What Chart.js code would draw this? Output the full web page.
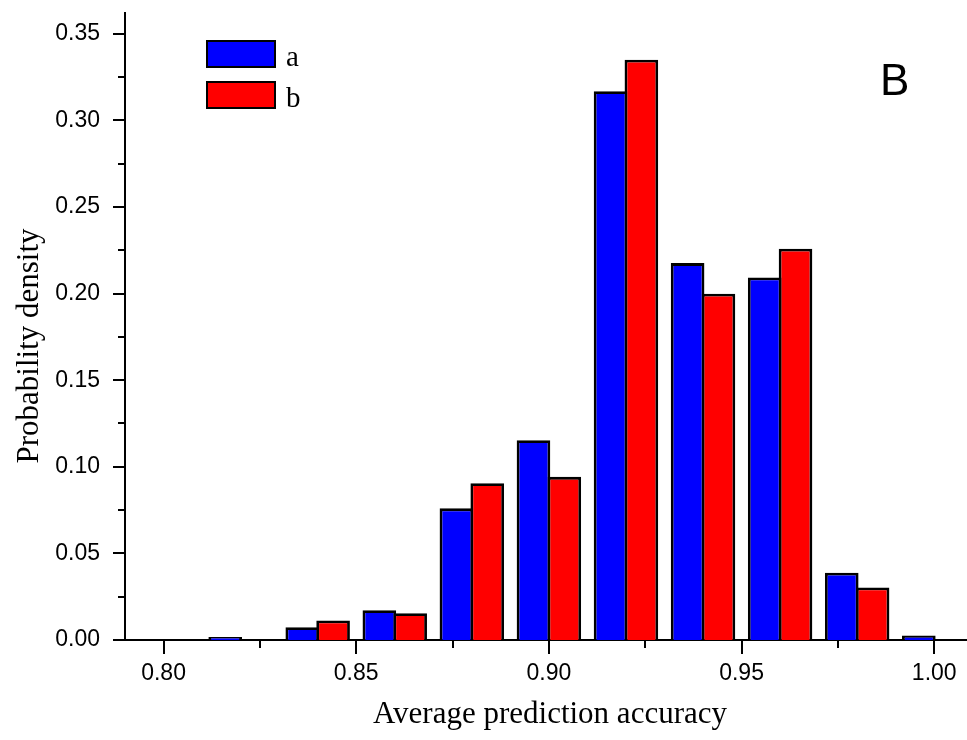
<!DOCTYPE html>
<html>
<head>
<meta charset="utf-8">
<title>Average prediction accuracy histogram</title>
<script src="https://cdn.jsdelivr.net/npm/chart.js@4.4.0/dist/chart.umd.min.js"></script>
<style>
  html, body { margin: 0; padding: 0; background: #ffffff; }
  canvas { display: block; }
</style>
</head>
<body>
<canvas id="hist" width="967" height="740"></canvas>
<script>
// Histogram bins (centre of each 0.02-wide accuracy bin)
const binCenters = [0.82, 0.84, 0.86, 0.88, 0.90, 0.92, 0.94, 0.96, 0.98, 1.00];
// Probability density for each method
const seriesA = [0.0017, 0.0074, 0.0172, 0.0760, 0.1153, 0.3168, 0.2176, 0.2093, 0.0388, 0.0026];
const seriesB = [null, 0.0113, 0.0155, 0.0905, 0.0942, 0.3350, 0.1999, 0.2259, 0.0303, null];
const seriesNames = ['a', 'b'];
const seriesColors = ['#0000ff', '#ff0000'];
// Labelled axis ticks
const xTickLabels = ['0.80', '0.85', '0.90', '0.95', '1.00'];
const yTickLabels = ['0.00', '0.05', '0.10', '0.15', '0.20', '0.25', '0.30', '0.35'];
const xTitle = 'Average prediction accuracy';
const yTitle = 'Probability density';
const panelLetter = 'B';

const SANS = '"Liberation Sans", Arial, sans-serif';
const SERIF = '"Liberation Serif", "Times New Roman", serif';
const BAR_BORDER = 2.8;

function labelFor(list, value) {
  const hit = list.find(t => Math.abs(parseFloat(t) - value) < 1e-6);
  return hit === undefined ? '' : hit;
}

const toPoints = vals => binCenters.map((x, i) => ({ x: x, y: vals[i] }));

// Tick marks (long for labelled, short for minor), axis titles, legend and panel letter
const decorations = {
  id: 'decorations',
  afterDraw(chart) {
    const ctx = chart.ctx;
    const xs = chart.scales.x, ys = chart.scales.y;
    const area = chart.chartArea;
    ctx.save();
    ctx.strokeStyle = '#000';
    ctx.lineWidth = 2;
    ctx.beginPath();
    xs.ticks.forEach(t => {
      const px = Math.round(xs.getPixelForValue(t.value));
      const len = t.label ? 14 : 8;
      ctx.moveTo(px, area.bottom);
      ctx.lineTo(px, area.bottom + len);
    });
    ys.ticks.forEach(t => {
      const py = Math.round(ys.getPixelForValue(t.value));
      const len = t.label ? 12 : 7;
      ctx.moveTo(area.left, py);
      ctx.lineTo(area.left - len, py);
    });
    ctx.stroke();

    // axis titles
    ctx.fillStyle = '#000';
    ctx.font = '31px ' + SERIF;
    ctx.textAlign = 'center';
    ctx.textBaseline = 'alphabetic';
    ctx.fillText(xTitle, 550, 723);
    ctx.save();
    ctx.translate(38, 346);
    ctx.rotate(-Math.PI / 2);
    ctx.fillText(yTitle, 0, 0);
    ctx.restore();

    // legend
    const boxX = 207, boxW = 68, boxH = 26;
    const boxTops = [41, 82];
    chart.data.datasets.forEach((ds, i) => {
      const top = boxTops[i];
      ctx.fillStyle = ds.backgroundColor;
      ctx.fillRect(boxX, top, boxW, boxH);
      ctx.strokeRect(boxX, top, boxW, boxH);
      ctx.fillStyle = '#000';
      ctx.font = '29px ' + SERIF;
      ctx.textAlign = 'left';
      ctx.fillText(ds.label, boxX + boxW + 11, top + boxH - 1);
    });

    // panel letter
    ctx.font = '44px ' + SANS;
    ctx.textAlign = 'left';
    ctx.fillText(panelLetter, 880, 95);
    ctx.restore();
  }
};

const tickFont = { family: SANS, size: 23 };
// Each bar slot is 0.008 wide; widen a touch so neighbouring outlines share one line
const slotPx = 0.008 * 3854;

new Chart(document.getElementById('hist'), {
  type: 'bar',
  data: {
    datasets: [0, 1].map(i => ({
      label: seriesNames[i],
      data: toPoints(i === 0 ? seriesA : seriesB),
      backgroundColor: seriesColors[i],
      borderColor: '#000000',
      borderWidth: BAR_BORDER,
      categoryPercentage: 0.8,
      barPercentage: (slotPx + BAR_BORDER) / slotPx
    }))
  },
  options: {
    responsive: false,
    animation: false,
    devicePixelRatio: 1,
    layout: { padding: { top: 13, right: 0, left: 0, bottom: 0 } },
    plugins: { legend: { display: false }, tooltip: { enabled: false } },
    scales: {
      x: {
        type: 'linear',
        min: 0.79,
        max: 1.0085,
        offset: false,
        grid: { display: false, drawTicks: false, offset: false },
        border: { display: true, color: '#000', width: 2 },
        ticks: {
          stepSize: 0.025,
          includeBounds: false,
          autoSkip: false,
          maxRotation: 0,
          padding: 20,
          color: '#000',
          font: tickFont,
          callback: v => labelFor(xTickLabels, v)
        },
        afterFit: s => { s.height = 100; s.paddingLeft = 0; s.paddingRight = 0; }
      },
      y: {
        min: 0,
        max: 0.362,
        grid: { display: false, drawTicks: false },
        border: { display: true, color: '#000', width: 2 },
        ticks: {
          stepSize: 0.025,
          includeBounds: false,
          autoSkip: false,
          padding: 25,
          color: '#000',
          font: tickFont,
          callback: v => labelFor(yTickLabels, v)
        },
        afterFit: s => { s.width = 125; s.paddingTop = 0; s.paddingBottom = 0; }
      }
    }
  },
  plugins: [decorations]
});
</script>
</body>
</html>
